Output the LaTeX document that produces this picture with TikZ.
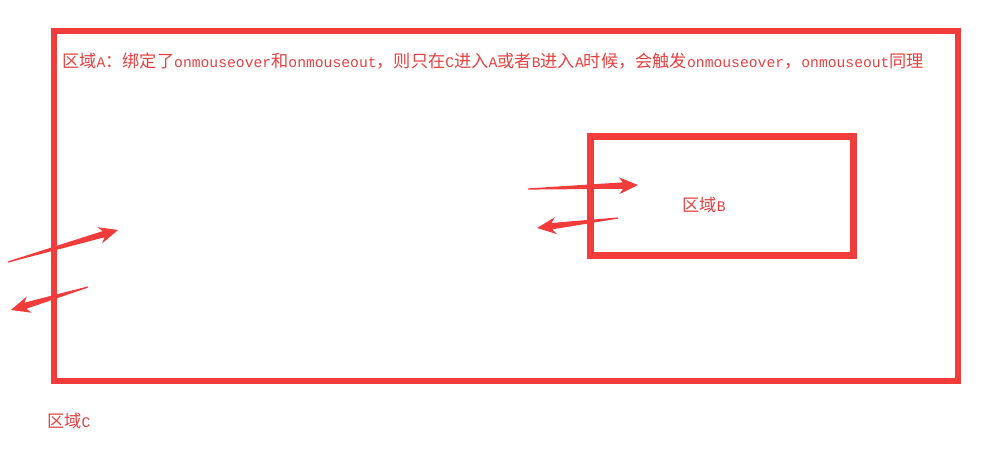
\documentclass[tikz,border=0pt]{standalone}
\usepackage{fontspec}
\setmainfont{Liberation Mono}
\newfontfamily\cjk{Noto Sans CJK SC}[Scale=1.17]
\usetikzlibrary{calc}
\definecolor{rd}{RGB}{242,60,60}
\definecolor{rtxt}{RGB}{230,66,66}
\newcommand\taparrow[2]{%
  \coordinate (hb) at ($(#2)!19pt!(#1)$);
  \coordinate (hc) at ($(#2)!15pt!(#1)$);
  \fill[rd] ($(#1)!0.6pt!90:(#2)$) -- ($(hc)!3.2pt!90:(#2)$) -- ($(hb)!8.5pt!90:(#2)$) -- (#2)
    -- ($(hb)!8.5pt!-90:(#2)$) -- ($(hc)!3.2pt!-90:(#2)$) -- ($(#1)!0.6pt!-90:(#2)$) -- cycle;}
\begin{document}
\begin{tikzpicture}[x=1pt,y=-1pt,
  boxline/.style={draw=rd,line width=#1},
  lbl/.style={text=rtxt,inner sep=0pt,font=\fontsize{14.7pt}{16pt}\selectfont}]
\useasboundingbox[fill=white] (0,0) rectangle (988,450);
% region A
\draw[boxline=6pt] (53.5,30.5) rectangle (958,381);
% region B
\draw[boxline=7pt] (590,136.5) rectangle (853.5,255.5);
% texts
\node[lbl,anchor=west] (ta) at (62,61) {{\cjk 区域}A{\cjk ：绑定了}onmouseover{\cjk 和}onmouseout{\cjk ，则只在}C{\cjk 进入}A{\cjk 或者}B{\cjk 进入}A{\cjk 时候，会触发}onmouseover{\cjk ，}onmouseout{\cjk 同理}};
\node[lbl] (tb) at (704,205) {{\cjk 区域}B};
\node[lbl,anchor=west] (tc) at (47,421) {{\cjk 区域}C};
% arrows
\coordinate (a1t) at (8,262);   \coordinate (a1h) at (118,230);
\coordinate (a2t) at (88,287);  \coordinate (a2h) at (11,310);
\coordinate (b1t) at (528,189); \coordinate (b1h) at (638,185);
\coordinate (b2t) at (618,218); \coordinate (b2h) at (537,228);
\taparrow{a1t}{a1h}
\taparrow{a2t}{a2h}
\taparrow{b1t}{b1h}
\taparrow{b2t}{b2h}
\end{tikzpicture}
\end{document}
